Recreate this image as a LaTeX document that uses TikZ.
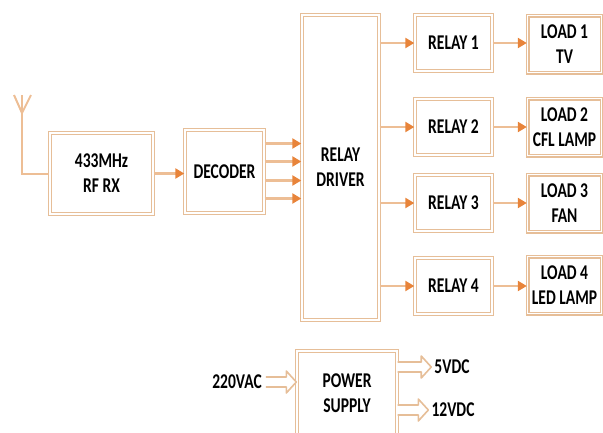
\documentclass[tikz,border=0pt]{standalone}
\usepackage{fontspec}
\setmainfont{Carlito}[FakeStretch=0.74]
\usetikzlibrary{arrows.meta,positioning,calc}
\definecolor{boxtan}{HTML}{E6BE98}
\definecolor{linetan}{HTML}{EDBE95}
\definecolor{arrowor}{HTML}{E8843A}
\tikzset{
  blk/.style={draw=boxtan, double=white, double distance=1.2pt, line width=1.4pt,
              fill=white, align=center, inner sep=2pt,
              font=\fontsize{21}{25}\selectfont\bfseries},
  relaybox/.style={blk, minimum width=77pt, minimum height=56pt},
  loadbox/.style={blk, minimum width=74pt, minimum height=57pt},
  lbl/.style={font=\fontsize{21}{25}\selectfont\bfseries, inner sep=1pt},
  ar/.style={draw=linetan, line width=2.8pt, -{Triangle[length=9pt,width=10pt,color=arrowor]}},
  wire/.style={draw=linetan, line width=2pt},
  hollow/.style={draw=boxtan, line width=1.6pt, fill=white, line join=round}
}
% hollow fat arrow from #1 to #2 (horizontal)
\newcommand{\fatarrow}[2]{%
  \draw[hollow] ($(#1)+(0,5)$) -- ($(#2)+(-10,5)$) -- ($(#2)+(-10,11)$) -- (#2)
    -- ($(#2)+(-10,-11)$) -- ($(#2)+(-10,-5)$) -- ($(#1)+(0,-5)$);}
\begin{document}
\begin{tikzpicture}[x=1pt,y=-1pt]
  \useasboundingbox (0,0) rectangle (603,432);

  % receiver chain
  \node[blk, minimum width=103pt, minimum height=81pt] (rf) at (101.5,173.5) {433MHz\\RF RX};
  \node[blk, minimum width=79pt, minimum height=83pt] (dec) at (224.5,171.5) {DECODER};
  \node[blk, minimum width=77pt, minimum height=305pt] (drv) at (340.5,167.5) {RELAY\\DRIVER};

  % antenna
  \coordinate (antl) at (14,95);
  \coordinate (antm) at (22,95);
  \coordinate (antr) at (31,95);
  \coordinate (antj) at (22,113);
  \coordinate (antb) at (22,173.5);
  \draw[wire] (antl) -- (antj) -- (antr);
  \draw[wire] (antm) -- (antb) -- (rf.west);

  % relays and loads
  \node[relaybox] (r1) at (453.5,43) {RELAY 1};
  \node[relaybox] (r2) at (453.5,127) {RELAY 2};
  \node[relaybox] (r3) at (453.5,203) {RELAY 3};
  \node[relaybox] (r4) at (453.5,286) {RELAY 4};
  \node[loadbox] (l1) at (564.5,44) {LOAD 1\\TV};
  \node[loadbox] (l2) at (564.5,127) {LOAD 2\\CFL LAMP};
  \node[loadbox] (l3) at (564.5,203) {LOAD 3\\FAN};
  \node[loadbox] (l4) at (564.5,285) {LOAD 4\\LED LAMP};

  \draw[ar] (rf.east) -- (rf.east -| dec.west);
  \foreach \dy in {28,10,-9,-27}
    \draw[ar] ([yshift=\dy pt]dec.east) coordinate (d) -- (d -| drv.west);
  \foreach \i in {1,...,4} {
    \draw[ar] (drv.east |- r\i) -- (r\i);
    \draw[ar] (r\i) -- (r\i -| l\i.west);
  }

  % power supply
  \node[blk, minimum width=100pt, minimum height=84pt] (psu) at (347,393) {POWER\\SUPPLY};
  \node[lbl] (vac) at (237,382) {220VAC};
  \node[lbl] (v5) at (452,367) {5VDC};
  \node[lbl] (v12) at (453,410) {12VDC};
  \coordinate (vacin) at ($(vac.east)+(3,0)$);
  \coordinate (v5out) at ($(v5.west)+(-2,0)$);
  \coordinate (v12out) at ($(v12.west)+(-2,0)$);
  \fatarrow{vacin}{psu.west |- vac}
  \fatarrow{psu.east |- v5}{v5out}
  \fatarrow{psu.east |- v12}{v12out}
\end{tikzpicture}
\end{document}
